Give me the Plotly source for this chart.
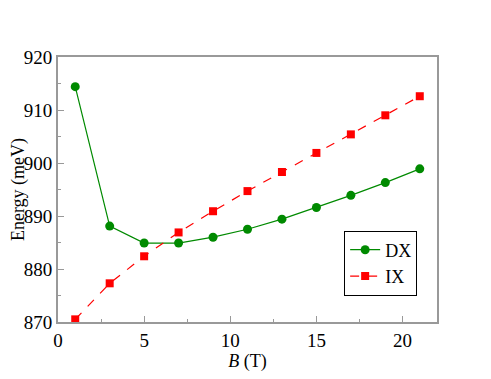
import plotly.graph_objects as go

B = [1, 3, 5, 7, 9, 11, 13, 15, 17, 19, 21]
dx = [914.4, 888.1, 884.9, 884.9, 886.0, 887.5, 889.4, 891.6, 893.9, 896.3, 898.9]
ix = [870.5, 877.3, 882.4, 886.9, 890.9, 894.7, 898.3, 901.9, 905.4, 909.0, 912.6]

serif = 'Liberation Serif'

fig = go.Figure()
fig.add_scatter(x=B, y=dx, mode='lines+markers', name='DX',
                line=dict(color='#008a00', width=1.2),
                marker=dict(symbol='circle', size=9, color='#008a00'))
fig.add_scatter(x=B, y=ix, mode='lines+markers', name='IX',
                line=dict(color='#ff0000', width=1.2, dash='dash'),
                marker=dict(symbol='square', size=8, color='#ff0000'))

axis_style = dict(showline=True, linecolor='#999999', linewidth=2, mirror=True,
                  ticks='inside', ticklen=6, tickcolor='#999999', tickwidth=1,
                  showgrid=False, zeroline=False, automargin=False,
                  tickfont=dict(family=serif, size=19, color='black'))

# page has an 8px body margin, so the margins are shifted by that much
fig.update_layout(
    width=491, height=379,
    margin=dict(l=50, r=62, t=49, b=65),
    plot_bgcolor='white', paper_bgcolor='white',
    font=dict(family=serif, size=16, color='black'),
    xaxis=dict(range=[0, 22], dtick=5,
               minor=dict(ticks='inside', dtick=2.5, ticklen=3, tickcolor='#999999'),
               title=dict(text='<i>B</i> (T)', standoff=0,
                          font=dict(family=serif, size=18)),
               **axis_style),
    yaxis=dict(range=[870, 920], dtick=10,
               minor=dict(ticks='inside', dtick=5, ticklen=3, tickcolor='#999999'),
               title=dict(text='Energy (meV)', standoff=0,
                          font=dict(family=serif, size=18)),
               **axis_style),
    legend=dict(x=0.755, y=0.1, xanchor='left', yanchor='bottom',
                bordercolor='black', borderwidth=1, bgcolor='white',
                itemwidth=30, tracegroupgap=0,
                font=dict(family=serif, size=18)),
)

fig.write_html("out.html")
